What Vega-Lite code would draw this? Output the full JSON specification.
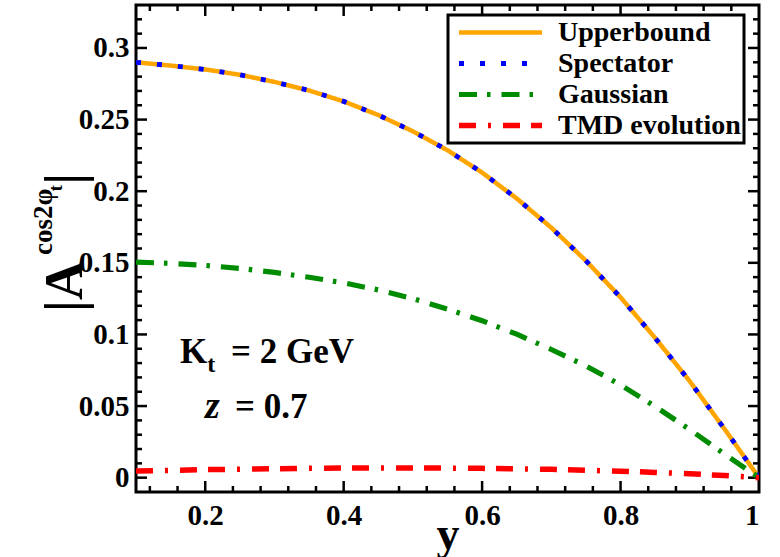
{
  "$schema": "https://vega.github.io/schema/vega-lite/v6.json",
  "width": 623,
  "height": 487,
  "autosize": {"type": "none"},
  "padding": {"left": 136, "top": 5, "right": 21, "bottom": 65},
  "background": "white",
  "config": {
    "view": {"stroke": "black", "strokeWidth": 3},
    "axis": {
      "grid": false,
      "domain": false,
      "ticks": false,
      "labelFont": "Liberation Serif",
      "labelFontWeight": "bold",
      "labelFontSize": 29,
      "labelColor": "black",
      "titleFont": "Liberation Serif",
      "titleColor": "black"
    },
    "rule": {"color": "black", "strokeWidth": 2.5, "strokeCap": "butt"}
  },
  "datasets": {
    "curves": [
      {"series": "Upperbound", "y": 0.1, "A": 0.29},
      {"series": "Upperbound", "y": 0.15, "A": 0.2877},
      {"series": "Upperbound", "y": 0.2, "A": 0.285},
      {"series": "Upperbound", "y": 0.25, "A": 0.2813},
      {"series": "Upperbound", "y": 0.3, "A": 0.2763},
      {"series": "Upperbound", "y": 0.35, "A": 0.2703},
      {"series": "Upperbound", "y": 0.4, "A": 0.2627},
      {"series": "Upperbound", "y": 0.45, "A": 0.2532},
      {"series": "Upperbound", "y": 0.5, "A": 0.2418},
      {"series": "Upperbound", "y": 0.55, "A": 0.2286},
      {"series": "Upperbound", "y": 0.6, "A": 0.213},
      {"series": "Upperbound", "y": 0.65, "A": 0.1949},
      {"series": "Upperbound", "y": 0.7, "A": 0.1745},
      {"series": "Upperbound", "y": 0.75, "A": 0.1514},
      {"series": "Upperbound", "y": 0.8, "A": 0.1259},
      {"series": "Upperbound", "y": 0.85, "A": 0.0975},
      {"series": "Upperbound", "y": 0.9, "A": 0.0673},
      {"series": "Upperbound", "y": 0.95, "A": 0.0341},
      {"series": "Upperbound", "y": 1.0, "A": 0.0},
      {"series": "Spectator", "y": 0.1, "A": 0.29},
      {"series": "Spectator", "y": 0.15, "A": 0.2877},
      {"series": "Spectator", "y": 0.2, "A": 0.285},
      {"series": "Spectator", "y": 0.25, "A": 0.2813},
      {"series": "Spectator", "y": 0.3, "A": 0.2763},
      {"series": "Spectator", "y": 0.35, "A": 0.2703},
      {"series": "Spectator", "y": 0.4, "A": 0.2627},
      {"series": "Spectator", "y": 0.45, "A": 0.2532},
      {"series": "Spectator", "y": 0.5, "A": 0.2418},
      {"series": "Spectator", "y": 0.55, "A": 0.2286},
      {"series": "Spectator", "y": 0.6, "A": 0.213},
      {"series": "Spectator", "y": 0.65, "A": 0.1949},
      {"series": "Spectator", "y": 0.7, "A": 0.1745},
      {"series": "Spectator", "y": 0.75, "A": 0.1514},
      {"series": "Spectator", "y": 0.8, "A": 0.1259},
      {"series": "Spectator", "y": 0.85, "A": 0.0975},
      {"series": "Spectator", "y": 0.9, "A": 0.0673},
      {"series": "Spectator", "y": 0.95, "A": 0.0341},
      {"series": "Spectator", "y": 1.0, "A": 0.0},
      {"series": "Gaussian", "y": 0.1, "A": 0.1505},
      {"series": "Gaussian", "y": 0.15, "A": 0.1496},
      {"series": "Gaussian", "y": 0.2, "A": 0.1482},
      {"series": "Gaussian", "y": 0.25, "A": 0.1461},
      {"series": "Gaussian", "y": 0.3, "A": 0.1433},
      {"series": "Gaussian", "y": 0.35, "A": 0.1399},
      {"series": "Gaussian", "y": 0.4, "A": 0.136},
      {"series": "Gaussian", "y": 0.45, "A": 0.1311},
      {"series": "Gaussian", "y": 0.5, "A": 0.125},
      {"series": "Gaussian", "y": 0.55, "A": 0.1177},
      {"series": "Gaussian", "y": 0.6, "A": 0.1096},
      {"series": "Gaussian", "y": 0.65, "A": 0.1002},
      {"series": "Gaussian", "y": 0.7, "A": 0.0895},
      {"series": "Gaussian", "y": 0.75, "A": 0.078},
      {"series": "Gaussian", "y": 0.8, "A": 0.0648},
      {"series": "Gaussian", "y": 0.85, "A": 0.0497},
      {"series": "Gaussian", "y": 0.9, "A": 0.0336},
      {"series": "Gaussian", "y": 0.95, "A": 0.0165},
      {"series": "Gaussian", "y": 1.0, "A": 0.0},
      {"series": "TMD evolution", "y": 0.1, "A": 0.0046},
      {"series": "TMD evolution", "y": 0.15, "A": 0.0051},
      {"series": "TMD evolution", "y": 0.2, "A": 0.0056},
      {"series": "TMD evolution", "y": 0.25, "A": 0.0059},
      {"series": "TMD evolution", "y": 0.3, "A": 0.0062},
      {"series": "TMD evolution", "y": 0.35, "A": 0.0065},
      {"series": "TMD evolution", "y": 0.4, "A": 0.0067},
      {"series": "TMD evolution", "y": 0.45, "A": 0.0068},
      {"series": "TMD evolution", "y": 0.5, "A": 0.0068},
      {"series": "TMD evolution", "y": 0.55, "A": 0.0067},
      {"series": "TMD evolution", "y": 0.6, "A": 0.0065},
      {"series": "TMD evolution", "y": 0.65, "A": 0.0062},
      {"series": "TMD evolution", "y": 0.7, "A": 0.0058},
      {"series": "TMD evolution", "y": 0.75, "A": 0.0052},
      {"series": "TMD evolution", "y": 0.8, "A": 0.0045},
      {"series": "TMD evolution", "y": 0.85, "A": 0.0037},
      {"series": "TMD evolution", "y": 0.9, "A": 0.0027},
      {"series": "TMD evolution", "y": 0.95, "A": 0.0015},
      {"series": "TMD evolution", "y": 1.0, "A": 0.0}
    ],
    "ticks": [
      {"ax": "x", "v": 0.2, "k": "major"}, {"ax": "x", "v": 0.4, "k": "major"}, {"ax": "x", "v": 0.6, "k": "major"}, {"ax": "x", "v": 0.8, "k": "major"},
      {"ax": "x", "v": 0.12, "k": "minor"}, {"ax": "x", "v": 0.16, "k": "minor"}, {"ax": "x", "v": 0.24, "k": "minor"}, {"ax": "x", "v": 0.28, "k": "minor"},
      {"ax": "x", "v": 0.32, "k": "minor"}, {"ax": "x", "v": 0.36, "k": "minor"}, {"ax": "x", "v": 0.44, "k": "minor"}, {"ax": "x", "v": 0.48, "k": "minor"},
      {"ax": "x", "v": 0.52, "k": "minor"}, {"ax": "x", "v": 0.56, "k": "minor"}, {"ax": "x", "v": 0.64, "k": "minor"}, {"ax": "x", "v": 0.68, "k": "minor"},
      {"ax": "x", "v": 0.72, "k": "minor"}, {"ax": "x", "v": 0.76, "k": "minor"}, {"ax": "x", "v": 0.84, "k": "minor"}, {"ax": "x", "v": 0.88, "k": "minor"},
      {"ax": "x", "v": 0.92, "k": "minor"}, {"ax": "x", "v": 0.96, "k": "minor"},
      {"ax": "y", "v": 0, "k": "major"}, {"ax": "y", "v": 0.05, "k": "major"}, {"ax": "y", "v": 0.1, "k": "major"}, {"ax": "y", "v": 0.15, "k": "major"},
      {"ax": "y", "v": 0.2, "k": "major"}, {"ax": "y", "v": 0.25, "k": "major"}, {"ax": "y", "v": 0.3, "k": "major"},
      {"ax": "y", "v": 0.01, "k": "minor"}, {"ax": "y", "v": 0.02, "k": "minor"}, {"ax": "y", "v": 0.03, "k": "minor"}, {"ax": "y", "v": 0.04, "k": "minor"},
      {"ax": "y", "v": 0.06, "k": "minor"}, {"ax": "y", "v": 0.07, "k": "minor"}, {"ax": "y", "v": 0.08, "k": "minor"}, {"ax": "y", "v": 0.09, "k": "minor"},
      {"ax": "y", "v": 0.11, "k": "minor"}, {"ax": "y", "v": 0.12, "k": "minor"}, {"ax": "y", "v": 0.13, "k": "minor"}, {"ax": "y", "v": 0.14, "k": "minor"},
      {"ax": "y", "v": 0.16, "k": "minor"}, {"ax": "y", "v": 0.17, "k": "minor"}, {"ax": "y", "v": 0.18, "k": "minor"}, {"ax": "y", "v": 0.19, "k": "minor"},
      {"ax": "y", "v": 0.21, "k": "minor"}, {"ax": "y", "v": 0.22, "k": "minor"}, {"ax": "y", "v": 0.23, "k": "minor"}, {"ax": "y", "v": 0.24, "k": "minor"},
      {"ax": "y", "v": 0.26, "k": "minor"}, {"ax": "y", "v": 0.27, "k": "minor"}, {"ax": "y", "v": 0.28, "k": "minor"}, {"ax": "y", "v": 0.29, "k": "minor"},
      {"ax": "y", "v": 0.31, "k": "minor"}, {"ax": "y", "v": 0.32, "k": "minor"}
    ],
    "ann": [
      {"g": "big", "x": 0.022, "v": 0.1157, "t": "|A"},
      {"g": "sup", "x": -0.0214, "v": 0.1555, "t": "cos2φ"},
      {"g": "sub", "x": -0.0069, "v": 0.200, "t": "t"},
      {"g": "big", "x": 0.022, "v": 0.2045, "t": "|"},
      {"g": "K", "x": 0.1636, "v": 0.0801, "t": "K"},
      {"g": "Ksub", "x": 0.2028, "v": 0.0738, "t": "t"},
      {"g": "K", "x": 0.2372, "v": 0.0801, "t": "= 2 GeV"},
      {"g": "z", "x": 0.1997, "v": 0.0417, "t": "z"},
      {"g": "K", "x": 0.243, "v": 0.0417, "t": "= 0.7"}
    ]
  },
  "resolve": {"axis": {"x": "independent", "y": "independent"}},
  "layer": [
    {"data": {"name": "ticks"}, "transform": [{"filter": "datum.ax == 'x' && datum.k == 'major'"}], "mark": {"type": "rule"},
      "encoding": {"x": {"field": "v", "type": "quantitative", "scale": {"domain": [0.1, 1], "nice": false, "zero": false}, "axis": null},
        "y": {"datum": -0.01, "type": "quantitative", "scale": {"domain": [-0.01, 0.33], "nice": false, "zero": false}, "axis": null}, "y2": {"datum": -0.00232}}},
    {"data": {"name": "ticks"}, "transform": [{"filter": "datum.ax == 'x' && datum.k == 'minor'"}], "mark": {"type": "rule"},
      "encoding": {"x": {"field": "v", "type": "quantitative", "scale": {"domain": [0.1, 1], "nice": false, "zero": false}, "axis": null},
        "y": {"datum": -0.01, "type": "quantitative", "scale": {"domain": [-0.01, 0.33], "nice": false, "zero": false}, "axis": null}, "y2": {"datum": -0.00581}}},
    {"data": {"name": "ticks"}, "transform": [{"filter": "datum.ax == 'x' && datum.k == 'major'"}], "mark": {"type": "rule"},
      "encoding": {"x": {"field": "v", "type": "quantitative", "scale": {"domain": [0.1, 1], "nice": false, "zero": false}, "axis": null},
        "y": {"datum": 0.33, "type": "quantitative", "scale": {"domain": [-0.01, 0.33], "nice": false, "zero": false}, "axis": null}, "y2": {"datum": 0.32232}}},
    {"data": {"name": "ticks"}, "transform": [{"filter": "datum.ax == 'x' && datum.k == 'minor'"}], "mark": {"type": "rule"},
      "encoding": {"x": {"field": "v", "type": "quantitative", "scale": {"domain": [0.1, 1], "nice": false, "zero": false}, "axis": null},
        "y": {"datum": 0.33, "type": "quantitative", "scale": {"domain": [-0.01, 0.33], "nice": false, "zero": false}, "axis": null}, "y2": {"datum": 0.32581}}},
    {"data": {"name": "ticks"}, "transform": [{"filter": "datum.ax == 'y' && datum.k == 'major'"}], "mark": {"type": "rule"},
      "encoding": {"y": {"field": "v", "type": "quantitative", "scale": {"domain": [-0.01, 0.33], "nice": false, "zero": false}, "axis": null},
        "x": {"datum": 0.1, "type": "quantitative", "scale": {"domain": [0.1, 1], "nice": false, "zero": false}, "axis": null}, "x2": {"datum": 0.11589}}},
    {"data": {"name": "ticks"}, "transform": [{"filter": "datum.ax == 'y' && datum.k == 'minor'"}], "mark": {"type": "rule"},
      "encoding": {"y": {"field": "v", "type": "quantitative", "scale": {"domain": [-0.01, 0.33], "nice": false, "zero": false}, "axis": null},
        "x": {"datum": 0.1, "type": "quantitative", "scale": {"domain": [0.1, 1], "nice": false, "zero": false}, "axis": null}, "x2": {"datum": 0.10867}}},
    {"data": {"name": "ticks"}, "transform": [{"filter": "datum.ax == 'y' && datum.k == 'major'"}], "mark": {"type": "rule"},
      "encoding": {"y": {"field": "v", "type": "quantitative", "scale": {"domain": [-0.01, 0.33], "nice": false, "zero": false}, "axis": null},
        "x": {"datum": 1, "type": "quantitative", "scale": {"domain": [0.1, 1], "nice": false, "zero": false}, "axis": null}, "x2": {"datum": 0.98411}}},
    {"data": {"name": "ticks"}, "transform": [{"filter": "datum.ax == 'y' && datum.k == 'minor'"}], "mark": {"type": "rule"},
      "encoding": {"y": {"field": "v", "type": "quantitative", "scale": {"domain": [-0.01, 0.33], "nice": false, "zero": false}, "axis": null},
        "x": {"datum": 1, "type": "quantitative", "scale": {"domain": [0.1, 1], "nice": false, "zero": false}, "axis": null}, "x2": {"datum": 0.99133}}},
    {
      "data": {"name": "curves"},
      "mark": {"type": "line", "strokeCap": "butt", "clip": true},
      "encoding": {
        "x": {"field": "y", "type": "quantitative",
          "scale": {"domain": [0.1, 1], "nice": false, "zero": false},
          "axis": {"orient": "bottom", "values": [0.2, 0.4, 0.6, 0.8, 1], "format": "~g", "labelPadding": 9, "title": "y", "titleFontSize": 46, "titleFontWeight": "bold", "titlePadding": -18}},
        "y": {"field": "A", "type": "quantitative",
          "scale": {"domain": [-0.01, 0.33], "nice": false, "zero": false},
          "axis": {"orient": "left", "values": [0, 0.05, 0.1, 0.15, 0.2, 0.25, 0.3], "format": "~g", "labelPadding": 7, "title": null}},
        "strokeWidth": {"field": "series", "type": "nominal", "legend": null,
          "scale": {"domain": ["Upperbound", "Spectator", "Gaussian", "TMD evolution"], "range": [4.5, 5.5, 3.5, 4]}},
        "color": {"field": "series", "type": "nominal",
          "scale": {"domain": ["Upperbound", "Spectator", "Gaussian", "TMD evolution"], "range": ["#FFA500", "#0000FF", "#008C00", "#FF0000"]},
          "legend": {"orient": "none", "legendX": 312, "legendY": 10, "title": null, "symbolType": "stroke", "symbolSize": 6889, "symbolStrokeWidth": 4.5, "clipHeight": 29, "padding": 3, "symbolOffset": 5, "labelOffset": 13, "labelFont": "Liberation Serif", "labelFontWeight": "bold", "labelFontSize": 28, "labelColor": "black", "labelLimit": 0, "strokeColor": "black", "fillColor": "white", "encode": {"legend": {"update": {"strokeWidth": {"value": 3}}}}}},
        "strokeDash": {"field": "series", "type": "nominal",
          "scale": {"domain": ["Upperbound", "Spectator", "Gaussian", "TMD evolution"], "range": [[1, 0], [5, 16], [18, 10, 3.5, 11], [17, 12, 3, 12, 17, 11]]},
          "legend": {"orient": "none", "legendX": 312, "legendY": 10, "title": null, "symbolType": "stroke", "symbolSize": 6889, "symbolStrokeWidth": 4.5, "clipHeight": 29, "padding": 3, "symbolOffset": 5, "labelOffset": 13, "labelFont": "Liberation Serif", "labelFontWeight": "bold", "labelFontSize": 28, "labelColor": "black", "labelLimit": 0, "strokeColor": "black", "fillColor": "white", "encode": {"legend": {"update": {"strokeWidth": {"value": 3}}}}}}
      }
    },
    {
      "data": {"name": "ann"},
      "transform": [{"filter": "datum.g == 'big'"}],
      "mark": {"type": "text", "font": "Liberation Serif", "fontSize": 54, "fontWeight": "bold", "angle": 270, "align": "left", "baseline": "alphabetic", "color": "black"},
      "encoding": {
        "x": {"field": "x", "type": "quantitative", "scale": {"domain": [0.1, 1], "nice": false, "zero": false}, "axis": null},
        "y": {"field": "v", "type": "quantitative", "scale": {"domain": [-0.01, 0.33], "nice": false, "zero": false}, "axis": null},
        "text": {"field": "t"}
      }
    },
    {
      "data": {"name": "ann"},
      "transform": [{"filter": "datum.g == 'sup'"}],
      "mark": {"type": "text", "font": "Liberation Serif", "fontSize": 27, "fontWeight": "bold", "angle": 270, "align": "left", "baseline": "alphabetic", "color": "black"},
      "encoding": {
        "x": {"field": "x", "type": "quantitative", "scale": {"domain": [0.1, 1], "nice": false, "zero": false}, "axis": null},
        "y": {"field": "v", "type": "quantitative", "scale": {"domain": [-0.01, 0.33], "nice": false, "zero": false}, "axis": null},
        "text": {"field": "t"}
      }
    },
    {
      "data": {"name": "ann"},
      "transform": [{"filter": "datum.g == 'sub'"}],
      "mark": {"type": "text", "font": "Liberation Serif", "fontSize": 18, "fontWeight": "bold", "angle": 270, "align": "left", "baseline": "alphabetic", "color": "black"},
      "encoding": {
        "x": {"field": "x", "type": "quantitative", "scale": {"domain": [0.1, 1], "nice": false, "zero": false}, "axis": null},
        "y": {"field": "v", "type": "quantitative", "scale": {"domain": [-0.01, 0.33], "nice": false, "zero": false}, "axis": null},
        "text": {"field": "t"}
      }
    },
    {
      "data": {"name": "ann"},
      "transform": [{"filter": "datum.g == 'K'"}],
      "mark": {"type": "text", "font": "Liberation Serif", "fontSize": 35, "fontWeight": "bold", "align": "left", "baseline": "alphabetic", "color": "black"},
      "encoding": {
        "x": {"field": "x", "type": "quantitative", "scale": {"domain": [0.1, 1], "nice": false, "zero": false}, "axis": null},
        "y": {"field": "v", "type": "quantitative", "scale": {"domain": [-0.01, 0.33], "nice": false, "zero": false}, "axis": null},
        "text": {"field": "t"}
      }
    },
    {
      "data": {"name": "ann"},
      "transform": [{"filter": "datum.g == 'Ksub'"}],
      "mark": {"type": "text", "font": "Liberation Serif", "fontSize": 24, "fontWeight": "bold", "align": "left", "baseline": "alphabetic", "color": "black"},
      "encoding": {
        "x": {"field": "x", "type": "quantitative", "scale": {"domain": [0.1, 1], "nice": false, "zero": false}, "axis": null},
        "y": {"field": "v", "type": "quantitative", "scale": {"domain": [-0.01, 0.33], "nice": false, "zero": false}, "axis": null},
        "text": {"field": "t"}
      }
    },
    {
      "data": {"name": "ann"},
      "transform": [{"filter": "datum.g == 'z'"}],
      "mark": {"type": "text", "font": "Liberation Serif", "fontSize": 38, "fontWeight": "bold", "fontStyle": "italic", "align": "left", "baseline": "alphabetic", "color": "black"},
      "encoding": {
        "x": {"field": "x", "type": "quantitative", "scale": {"domain": [0.1, 1], "nice": false, "zero": false}, "axis": null},
        "y": {"field": "v", "type": "quantitative", "scale": {"domain": [-0.01, 0.33], "nice": false, "zero": false}, "axis": null},
        "text": {"field": "t"}
      }
    }
  ]
}
